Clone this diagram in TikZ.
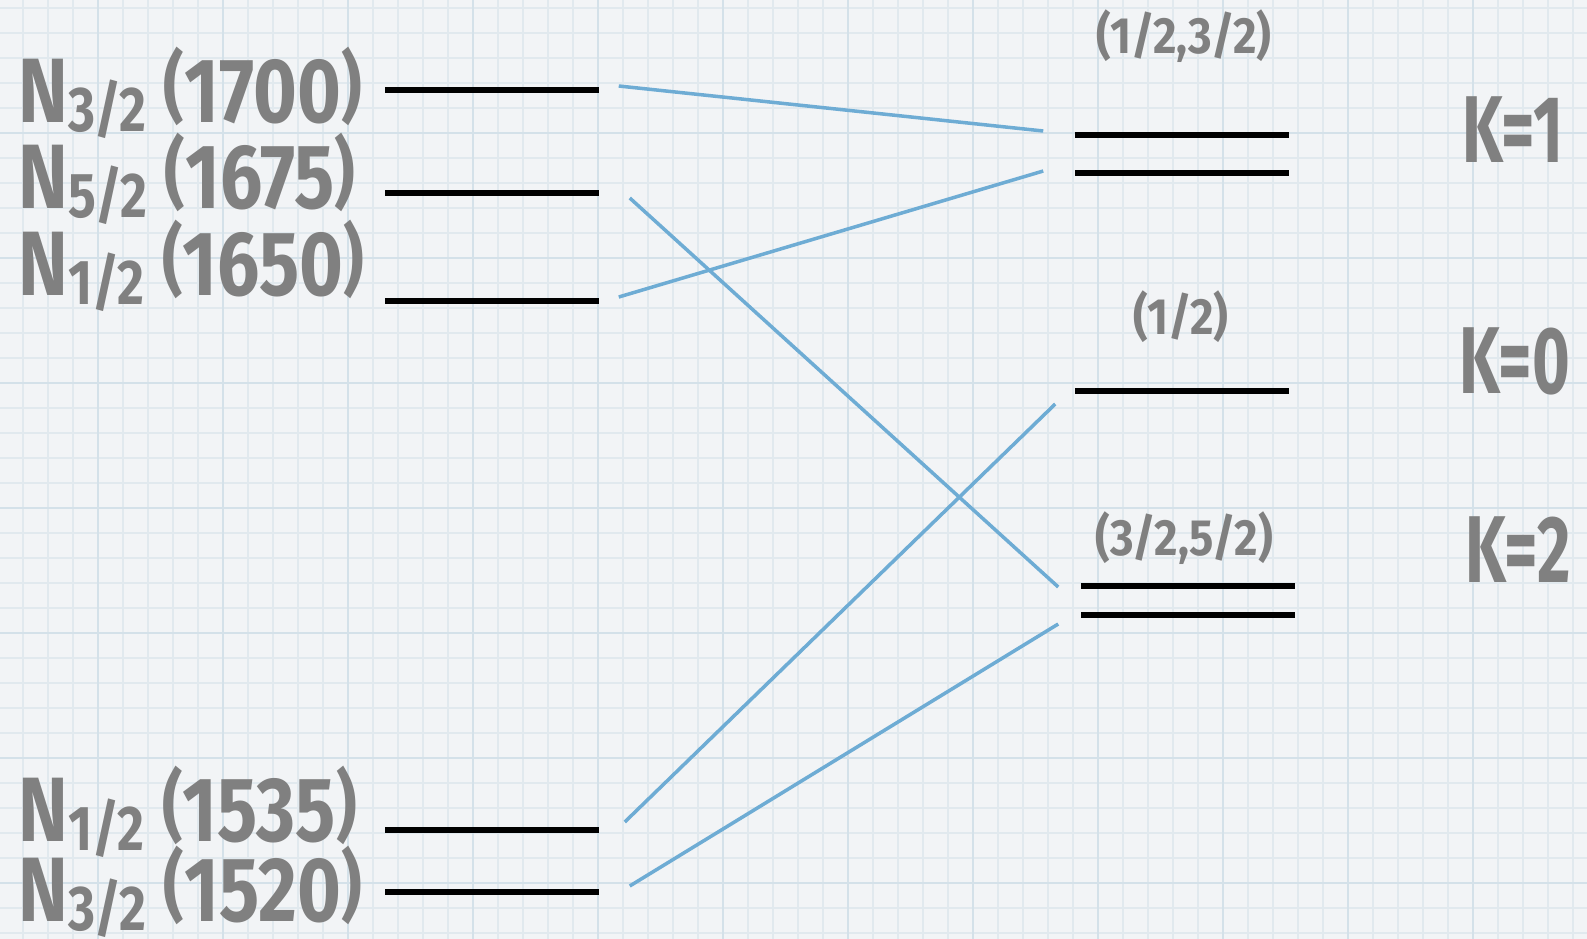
\documentclass[tikz,border=0pt]{standalone}
\usepackage{fontspec}
\setmainfont{Fira Sans}
\usetikzlibrary{positioning}
\definecolor{paper}{RGB}{242,244,246}
\definecolor{gridline}{RGB}{225,233,238}
\definecolor{gridmajor}{RGB}{212,225,233}
\definecolor{labgray}{RGB}{128,128,128}
\definecolor{mixblue}{RGB}{110,172,212}
\newcommand{\nsub}[1]{\raisebox{-0.2ex}{\fontsize{18}{18}\selectfont #1}}
\newcommand{\npar}[1]{\raisebox{2.5pt}{\fontsize{22}{22}\selectfont #1}}
\newcommand{\nlab}[2]{\scalebox{0.82}[1]{N\nsub{#1} \npar{(}#2\npar{)}}}
\tikzset{
    level/.style={fill=black, inner sep=0pt, minimum width=2.14cm, minimum height=0.06cm},
    statelab/.style={text=labgray, inner sep=0pt, anchor=base west,
        font=\bfseries\fontsize{26}{26}\selectfont},
    spinlab/.style={text=labgray, inner sep=0pt, anchor=base,
        font=\bfseries\fontsize{14.5}{14.5}\selectfont},
    klab/.style={text=labgray, inner sep=0pt, anchor=base,
        font=\bfseries\fontsize{27}{27}\selectfont},
    mix/.style={mixblue, line width=1pt}
}
\begin{document}
\begin{tikzpicture}[x=0.01cm, y=-0.01cm]
    % Paper
    \useasboundingbox (0,0) rectangle (1587,939);
    \fill[paper] (0,0) rectangle (1587,939);
    \foreach \gx in {23,48,...,1587}
        \draw[gridline, line width=0.4pt] (\gx,0) -- (\gx,939);
    \foreach \gy in {8,33,...,939}
        \draw[gridline, line width=0.4pt] (0,\gy) -- (1587,\gy);
    \foreach \gx in {98,223,...,1587}
        \draw[gridmajor, line width=0.8pt] (\gx,0) -- (\gx,939);
    \foreach \gy in {133,258,...,939}
        \draw[gridmajor, line width=0.8pt] (0,\gy) -- (1587,\gy);

    % Nucleon levels
    \node[level] (n1700) at (492,90) {};
    \node[level] (n1675) at (492,193) {};
    \node[level] (n1650) at (492,301) {};
    \node[level] (n1535) at (492,830) {};
    \node[level] (n1520) at (492,892) {};

    \node[statelab] (l1700) at (18,122) {\nlab{3/2}{1700}};
    \node[statelab] (l1675) at (18,208) {\nlab{5/2}{1675}};
    \node[statelab] (l1650) at (18,295) {\nlab{1/2}{1650}};
    \node[statelab] (l1535) at (18,841) {\nlab{1/2}{1535}};
    \node[statelab] (l1520) at (18,921) {\nlab{3/2}{1520}};

    % Multiplets
    \node[level] (k1a) at (1182,135) {};
    \node[level] (k1b) at (1182,173) {};
    \node[level] (k0) at (1182,391) {};
    \node[level] (k2a) at (1188,586) {};
    \node[level] (k2b) at (1188,615) {};

    \node[spinlab] (s1) at (1184,53) {\scalebox{0.89}[1]{(1/2,3/2)}};
    \node[spinlab] (s0) at (1181,334) {\scalebox{0.89}[1]{(1/2)}};
    \node[spinlab] (s2) at (1184,555) {\scalebox{0.89}[1]{(3/2,5/2)}};

    \node[klab] (kk1) at (1513,162) {\scalebox{0.68}[1]{K=1}};
    \node[klab] (kk0) at (1515,393) {\scalebox{0.68}[1]{K=0}};
    \node[klab] (kk2) at (1518,582) {\scalebox{0.68}[1]{K=2}};

    % Mixing lines
    \draw[mix] ([shift={(19,-4)}]n1700.east) -- ([shift={(-31,-4)}]k1a.west);
    \draw[mix] ([shift={(19,-4)}]n1650.east) -- ([shift={(-31,-2)}]k1b.west);
    \draw[mix] ([shift={(30,5)}]n1675.east) -- ([shift={(-22,1)}]k2a.west);
    \draw[mix] ([shift={(25,-8)}]n1535.east) -- ([shift={(-19,13)}]k0.west);
    \draw[mix] ([shift={(30,-6)}]n1520.east) -- ([shift={(-22,9)}]k2b.west);
\end{tikzpicture}
\end{document}
